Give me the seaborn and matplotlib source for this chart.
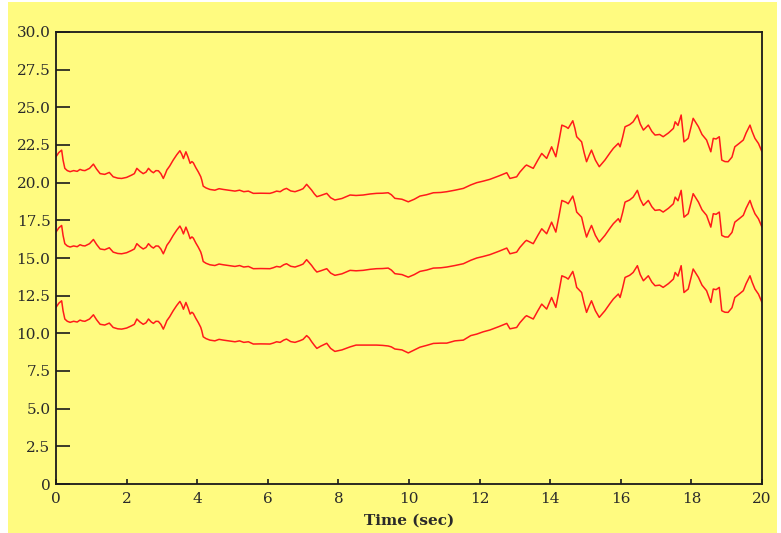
import matplotlib
matplotlib.use("Agg")
import matplotlib.pyplot as plt
import seaborn as sns
import pandas as pd
from matplotlib.patches import Rectangle

# ---- data ----
time_s = [
    0.00, 0.08, 0.16, 0.20, 0.25, 0.32, 0.40, 0.50, 0.60, 0.68,
    0.75, 0.82, 0.95, 1.06, 1.15, 1.25, 1.38, 1.51, 1.62, 1.75,
    1.86, 2.00, 2.14, 2.22, 2.29, 2.38, 2.47, 2.55, 2.62, 2.70,
    2.76, 2.83, 2.90, 2.97, 3.04, 3.10, 3.14, 3.22, 3.32, 3.42,
    3.51, 3.56, 3.61, 3.65, 3.68, 3.74, 3.80, 3.85, 3.89, 3.96,
    4.03, 4.10, 4.13, 4.17, 4.25, 4.36, 4.50, 4.62, 4.74, 4.90,
    5.07, 5.20, 5.32, 5.45, 5.59, 5.80, 6.06, 6.15, 6.25, 6.35,
    6.45, 6.53, 6.65, 6.77, 6.91, 7.00, 7.10, 7.17, 7.24, 7.32,
    7.39, 7.50, 7.67, 7.78, 7.90, 8.10, 8.33, 8.50, 8.70, 8.90,
    9.08, 9.25, 9.41, 9.50, 9.60, 9.80, 9.98, 10.15, 10.31, 10.50,
    10.69, 10.90, 11.07, 11.30, 11.54, 11.75, 11.92, 12.10, 12.29, 12.55,
    12.77, 12.86, 13.05, 13.14, 13.29, 13.33, 13.52, 13.65, 13.76, 13.90,
    14.04, 14.16, 14.25, 14.33, 14.45, 14.51, 14.64, 14.70, 14.75, 14.89,
    14.96, 15.03, 15.10, 15.17, 15.28, 15.39, 15.55, 15.70, 15.79, 15.93,
    15.98, 16.05, 16.12, 16.25, 16.35, 16.47, 16.55, 16.64, 16.78, 16.88,
    16.97, 17.10, 17.20, 17.35, 17.49, 17.54, 17.62, 17.71, 17.79, 17.91,
    18.05, 18.20, 18.30, 18.43, 18.55, 18.62, 18.70, 18.79, 18.86, 18.95,
    19.04, 19.15, 19.23, 19.35, 19.47, 19.55, 19.66, 19.72, 19.80, 19.90,
    20.00,
]

top_trace = [
    21.72, 22.00, 22.16, 21.50, 20.95, 20.80, 20.73, 20.80, 20.75, 20.88,
    20.82, 20.80, 20.95, 21.23, 20.90, 20.60, 20.55, 20.68, 20.39, 20.30,
    20.28, 20.35, 20.50, 20.60, 20.95, 20.75, 20.60, 20.70, 20.95, 20.75,
    20.66, 20.80, 20.79, 20.60, 20.28, 20.60, 20.84, 21.10, 21.50, 21.85,
    22.12, 21.90, 21.60, 21.85, 22.05, 21.70, 21.28, 21.40, 21.32, 21.00,
    20.72, 20.40, 20.17, 19.77, 19.65, 19.55, 19.50, 19.60, 19.55, 19.50,
    19.44, 19.50, 19.40, 19.44, 19.29, 19.30, 19.29, 19.35, 19.44, 19.40,
    19.55, 19.62, 19.45, 19.40, 19.51, 19.60, 19.89, 19.70, 19.51, 19.25,
    19.07, 19.15, 19.29, 19.00, 18.85, 18.95, 19.18, 19.15, 19.18, 19.25,
    19.29, 19.30, 19.33, 19.20, 18.96, 18.90, 18.73, 18.90, 19.11, 19.20,
    19.33, 19.35, 19.40, 19.50, 19.62, 19.85, 20.00, 20.10, 20.22, 20.45,
    20.66, 20.28, 20.39, 20.70, 21.10, 21.17, 20.95, 21.50, 21.94, 21.61,
    22.38, 21.72, 22.80, 23.82, 23.70, 23.60, 24.11, 23.60, 23.05, 22.71,
    22.00, 21.39, 21.80, 22.16, 21.50, 21.06, 21.50, 22.00, 22.28, 22.61,
    22.38, 23.00, 23.71, 23.85, 24.04, 24.49, 23.90, 23.49, 23.82, 23.40,
    23.16, 23.20, 23.05, 23.30, 23.60, 24.04, 23.80, 24.49, 22.71, 22.94,
    24.27, 23.71, 23.20, 22.83, 22.05, 22.94, 22.90, 23.05, 21.50, 21.40,
    21.39, 21.70, 22.38, 22.60, 22.83, 23.30, 23.82, 23.40, 22.94, 22.60,
    22.05,
]

middle_trace = [
    16.72, 17.00, 17.16, 16.50, 15.95, 15.80, 15.73, 15.80, 15.75, 15.88,
    15.82, 15.80, 15.95, 16.23, 15.90, 15.60, 15.55, 15.68, 15.39, 15.30,
    15.28, 15.35, 15.50, 15.60, 15.95, 15.75, 15.60, 15.70, 15.95, 15.75,
    15.66, 15.80, 15.79, 15.60, 15.28, 15.60, 15.84, 16.10, 16.50, 16.85,
    17.12, 16.90, 16.60, 16.85, 17.05, 16.70, 16.28, 16.40, 16.32, 16.00,
    15.72, 15.40, 15.17, 14.77, 14.65, 14.55, 14.50, 14.60, 14.55, 14.50,
    14.44, 14.50, 14.40, 14.44, 14.29, 14.30, 14.29, 14.35, 14.44, 14.40,
    14.55, 14.62, 14.45, 14.40, 14.51, 14.60, 14.89, 14.70, 14.51, 14.25,
    14.07, 14.15, 14.29, 14.00, 13.85, 13.95, 14.18, 14.15, 14.18, 14.25,
    14.29, 14.30, 14.33, 14.20, 13.96, 13.90, 13.73, 13.90, 14.11, 14.20,
    14.33, 14.35, 14.40, 14.50, 14.62, 14.85, 15.00, 15.10, 15.22, 15.45,
    15.66, 15.28, 15.39, 15.70, 16.10, 16.17, 15.95, 16.50, 16.94, 16.61,
    17.38, 16.72, 17.80, 18.82, 18.70, 18.60, 19.11, 18.60, 18.05, 17.71,
    17.00, 16.39, 16.80, 17.16, 16.50, 16.06, 16.50, 17.00, 17.28, 17.61,
    17.38, 18.00, 18.71, 18.85, 19.04, 19.49, 18.90, 18.49, 18.82, 18.40,
    18.16, 18.20, 18.05, 18.30, 18.60, 19.04, 18.80, 19.49, 17.71, 17.94,
    19.27, 18.71, 18.20, 17.83, 17.05, 17.94, 17.90, 18.05, 16.50, 16.40,
    16.39, 16.70, 17.38, 17.60, 17.83, 18.30, 18.82, 18.40, 17.94, 17.60,
    17.05,
]

bottom_trace = [
    11.72, 12.00, 12.16, 11.50, 10.95, 10.80, 10.73, 10.80, 10.75, 10.88,
    10.82, 10.80, 10.95, 11.23, 10.90, 10.60, 10.55, 10.68, 10.39, 10.30,
    10.28, 10.35, 10.50, 10.60, 10.95, 10.75, 10.60, 10.70, 10.95, 10.75,
    10.66, 10.80, 10.79, 10.60, 10.28, 10.60, 10.84, 11.10, 11.50, 11.85,
    12.12, 11.90, 11.60, 11.85, 12.05, 11.70, 11.28, 11.40, 11.32, 11.00,
    10.72, 10.40, 10.17, 9.77, 9.65, 9.55, 9.50, 9.60, 9.55, 9.50,
    9.44, 9.50, 9.40, 9.44, 9.29, 9.30, 9.29, 9.35, 9.44, 9.40,
    9.55, 9.62, 9.45, 9.40, 9.51, 9.60, 9.85, 9.70, 9.45, 9.20,
    9.00, 9.15, 9.34, 9.00, 8.80, 8.90, 9.10, 9.22, 9.22, 9.22,
    9.22, 9.20, 9.16, 9.10, 8.96, 8.90, 8.70, 8.90, 9.08, 9.20,
    9.33, 9.35, 9.35, 9.50, 9.55, 9.85, 9.95, 10.10, 10.22, 10.45,
    10.66, 10.30, 10.39, 10.70, 11.10, 11.17, 10.95, 11.50, 11.94, 11.61,
    12.38, 11.72, 12.80, 13.82, 13.70, 13.60, 14.11, 13.60, 13.05, 12.71,
    12.00, 11.39, 11.80, 12.16, 11.50, 11.06, 11.50, 12.00, 12.28, 12.61,
    12.38, 13.00, 13.71, 13.85, 14.04, 14.49, 13.90, 13.49, 13.82, 13.40,
    13.16, 13.20, 13.05, 13.30, 13.60, 14.04, 13.80, 14.49, 12.71, 12.94,
    14.27, 13.71, 13.20, 12.83, 12.05, 12.94, 12.90, 13.05, 11.50, 11.40,
    11.39, 11.70, 12.38, 12.60, 12.83, 13.30, 13.82, 13.40, 12.94, 12.60,
    12.05,
]

x_ticks = [0, 2, 4, 6, 8, 10, 12, 14, 16, 18, 20]
y_ticks = [0, 2.5, 5.0, 7.5, 10.0, 12.5, 15.0, 17.5, 20.0, 22.5, 25.0, 27.5, 30.0]
y_tick_labels = ["0", "2.5", "5.0", "7.5", "10.0", "12.5", "15.0", "17.5",
                 "20.0", "22.5", "25.0", "27.5", "30.0"]
x_label = "Time (sec)"

# ---- build long table ----
frames = []
for name, vals in [("top", top_trace), ("middle", middle_trace), ("bottom", bottom_trace)]:
    frames.append(pd.DataFrame({"t": time_s, "v": vals, "ch": name}))
df = pd.concat(frames, ignore_index=True)

sns.set_style("white")
plt.rcParams["font.family"] = ["DejaVu Serif"]

BG = "#FFFB80"
fig = plt.figure(figsize=(7.81, 5.33), dpi=100, facecolor="white")
fig.patches.append(Rectangle((8 / 781, 0), (777 - 8) / 781, 1 - 2 / 533,
                             transform=fig.transFigure, facecolor=BG,
                             edgecolor="none", zorder=-10))
ax = fig.add_axes([56 / 781, (533 - 484) / 533, (762 - 56) / 781, (484 - 32) / 533])
ax.set_facecolor(BG)

sns.lineplot(data=df, x="t", y="v", hue="ch", units="ch", estimator=None,
             palette={"top": "#FF1A1A", "middle": "#FF1A1A", "bottom": "#FF1A1A"},
             linewidth=1.1, legend=False, ax=ax, sort=False)

ax.set_xlim(0, 20)
ax.set_ylim(0, 30)
ax.set_xticks(x_ticks)
ax.set_xticklabels([str(v) for v in x_ticks])
ax.set_yticks(y_ticks)
ax.set_yticklabels(y_tick_labels)

for s in ax.spines.values():
    s.set_visible(True)
    s.set_color("#1a1a1a")
    s.set_linewidth(1.3)

ax.tick_params(axis="y", direction="in", length=10, width=1.2, color="#1a1a1a",
               pad=4, labelsize=11, labelcolor="#2a2a2a", left=True, right=False)
ax.tick_params(axis="x", direction="in", length=3.5, width=1.2, color="#1a1a1a",
               pad=6, labelsize=11, labelcolor="#2a2a2a", bottom=True, top=False)

ax.set_xlabel(x_label, fontsize=11, fontweight="bold", color="#2a2a2a", labelpad=5)
ax.set_ylabel("")

fig.savefig("out.png", dpi=100, facecolor="white")
